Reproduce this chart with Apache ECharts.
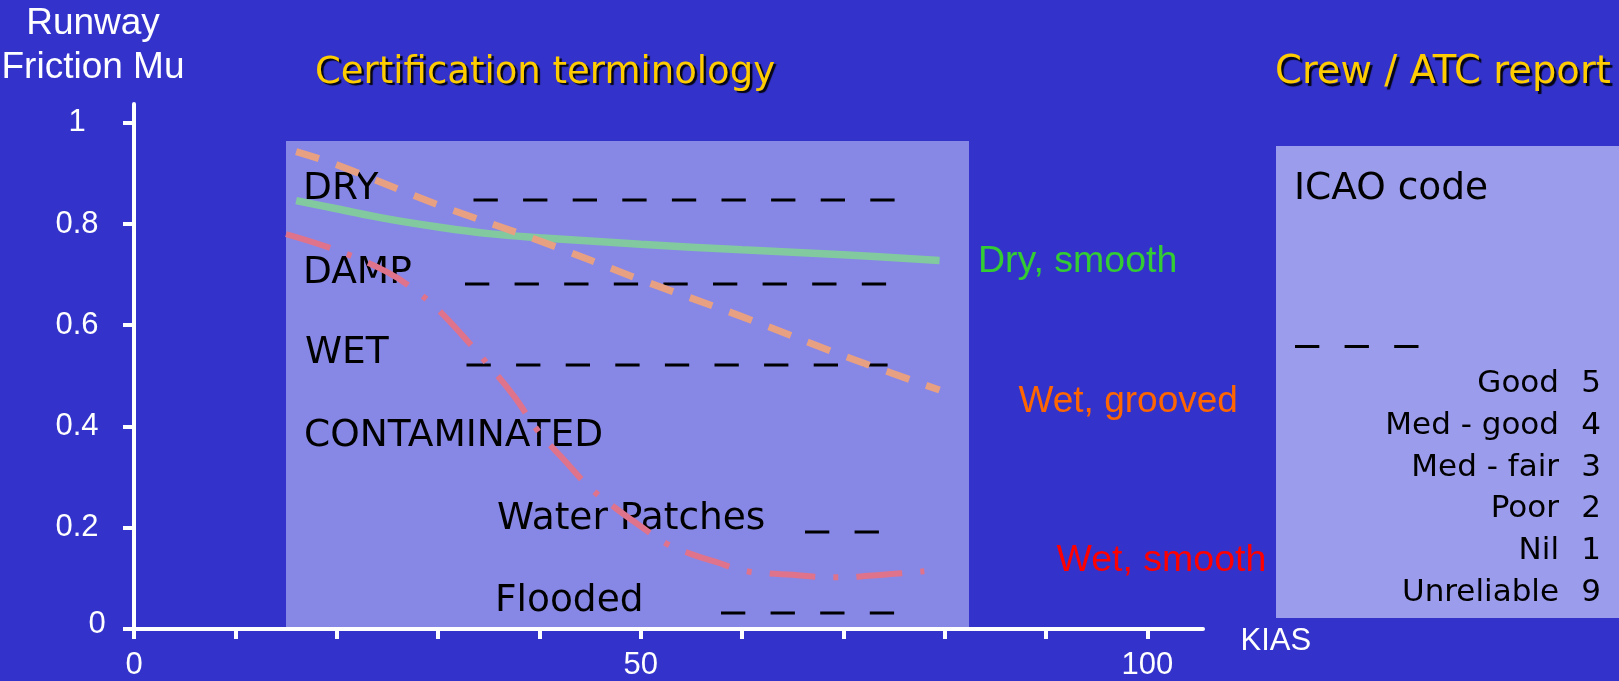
<!DOCTYPE html>
<html>
<head>
<meta charset="utf-8">
<script src="https://cdn.jsdelivr.net/npm/echarts@6/dist/echarts.min.js"></script>
<style>
  html, body { margin: 0; padding: 0; background: #3333CC; }
  #chart { width: 1619px; height: 681px; }
</style>
</head>
<body>
<div id="chart"></div>
<script>
// ---- Data ----
const yTickValues = [0, 0.2, 0.4, 0.6, 0.8, 1];
const xTickValues = [0, 10, 20, 30, 40, 50, 60, 70, 80, 90, 100];
const xLabelValues = [0, 50, 100];

// Dry, smooth (solid green)
const drySmoothKias = [16, 20, 25, 30, 35, 40, 50, 60, 70, 79.5];
const drySmoothMu   = [0.846, 0.830, 0.810, 0.794, 0.781, 0.773, 0.760, 0.749, 0.739, 0.728];

// Wet, grooved (dashed orange)
const wetGroovedKias = [16, 20, 30, 40, 50, 60, 70, 79.5];
const wetGroovedMu   = [0.943, 0.917, 0.838, 0.767, 0.690, 0.617, 0.540, 0.472];

// Wet, smooth (dash-dot red)
const wetSmoothKias = [15, 20, 25, 28, 30, 32.5, 35, 37.5, 40, 42.5, 45, 47.5, 50, 52.5, 55, 57.5, 60, 62.5, 65, 67.5, 70, 72.5, 75, 78];
const wetSmoothMu   = [0.780, 0.748, 0.705, 0.665, 0.631, 0.578, 0.521, 0.460, 0.388, 0.333, 0.279, 0.239, 0.203, 0.169, 0.148, 0.132, 0.116, 0.110, 0.107, 0.103, 0.102, 0.105, 0.109, 0.114];

// Text content
const certTerms = ['DRY', 'DAMP', 'WET', 'CONTAMINATED'];
const contamTerms = ['Water Patches', 'Flooded'];
const icaoLabels = ['Good', 'Med - good', 'Med - fair', 'Poor', 'Nil', 'Unreliable'];
const icaoCodes = ['5', '4', '3', '2', '1', '9'];

const pair = (xs, ys) => xs.map((x, i) => [x, ys[i]]);

// ---- Layout helpers ----
const SANS = '"Liberation Sans", Arial, sans-serif';
const VERD = '"DejaVu Sans", Verdana, sans-serif';
const DY = 4.5;

function txt(text, x, y, size, family, color, align, extra) {
  return {
    type: 'text', z: 1,
    style: Object.assign({
      text: text, x: x, y: y + DY,
      font: size + 'px ' + family,
      fill: color,
      align: align || 'left', textAlign: align || 'left',
      verticalAlign: 'middle', textVerticalAlign: 'middle'
    }, extra || {})
  };
}
function dashes(x1, x2, y) {
  return {
    type: 'line', z: 1,
    shape: { x1: x1, y1: y, x2: x2, y2: y },
    style: { stroke: '#000', lineWidth: 3, lineDash: [24.3, 25.3], lineCap: 'butt' }
  };
}
const shadow = { textShadowColor: 'rgba(0,0,0,0.9)', textShadowOffsetX: 2.5, textShadowOffsetY: 2.5, textShadowBlur: 1 };

const graphics = [
  { type: 'rect', z: 0, shape: { x: 286, y: 141, width: 683, height: 488 }, style: { fill: '#8787E6' } },
  { type: 'rect', z: 0, shape: { x: 1276, y: 146, width: 343, height: 472 }, style: { fill: '#9C9CEC' } },
  // axis titles
  txt('Runway\nFriction Mu', 93, 41.5, 37, SANS, '#ffffff', 'center', { lineHeight: 44.5 }),
  txt('KIAS', 1240.5, 637, 31, SANS, '#ffffff', 'left'),
  // section titles
  txt('Certification terminology', 315, 68.5, 37, VERD, '#FFCC00', 'left', shadow),
  txt('Crew / ATC report', 1275, 68.5, 38.5, VERD, '#FFCC00', 'left', shadow),
  // certification terms
  txt(certTerms[0], 303, 184.5, 37.5, VERD, '#000', 'left'),
  txt(certTerms[1], 303, 268.5, 37.5, VERD, '#000', 'left'),
  txt(certTerms[2], 305, 348.5, 37.5, VERD, '#000', 'left'),
  txt(certTerms[3], 304, 431.5, 37.5, VERD, '#000', 'left'),
  txt(contamTerms[0], 497, 515, 37.5, VERD, '#000', 'left'),
  txt(contamTerms[1], 495, 596.5, 37.5, VERD, '#000', 'left'),
  dashes(473.5, 896, 200),
  dashes(465, 887, 284),
  dashes(466.5, 888, 365),
  dashes(805, 879, 532),
  dashes(721, 895, 613),
  dashes(1295, 1419, 346.5),
  // series captions
  txt('Dry, smooth', 978, 257, 37.5, SANS, '#33CC33', 'left'),
  txt('Wet, grooved', 1018.5, 397, 37, SANS, '#FF6600', 'left'),
  txt('Wet, smooth', 1056.5, 556, 37.5, SANS, '#FF0000', 'left'),
  // ICAO panel
  txt('ICAO code', 1294, 185, 37.5, VERD, '#000', 'left')
];
const rowY = [379, 421, 463, 504, 546, 588];
icaoLabels.forEach((lab, i) => {
  graphics.push(txt(lab, 1559, rowY[i], 31, VERD, '#000', 'right'));
  graphics.push(txt(icaoCodes[i], 1601, rowY[i], 31, VERD, '#000', 'right'));
});

const chart = echarts.init(document.getElementById('chart'), null, { renderer: 'canvas' });
chart.setOption({
  backgroundColor: '#3333CC',
  animation: false,
  textStyle: { fontFamily: SANS },
  grid: { left: 134, right: 416, top: 104, bottom: 48, containLabel: false },
  xAxis: {
    type: 'value', min: 0, max: 105.5, interval: 10,
    axisLine: { show: true, onZero: false, lineStyle: { color: '#fff', width: 4 } },
    axisTick: { show: true, length: 10, lineStyle: { color: '#fff', width: 4 }, customValues: xTickValues },
    axisLabel: { color: '#fff', fontSize: 31, fontFamily: SANS, margin: 21, customValues: xLabelValues },
    splitLine: { show: false }
  },
  yAxis: {
    type: 'value', min: 0, max: 1.037, interval: 0.2,
    axisLine: { show: true, onZero: false, lineStyle: { color: '#fff', width: 4 } },
    axisTick: { show: true, length: 11, lineStyle: { color: '#fff', width: 4 }, customValues: yTickValues },
    axisLabel: {
      color: '#fff', fontSize: 31, fontFamily: SANS, margin: 57, align: 'center',
      customValues: yTickValues,
      formatter: v => (v === 0 ? '{z|0}' : String(v)),
      rich: { z: { color: '#fff', fontSize: 31, fontFamily: SANS, padding: [0, 0, 10, 40] } }
    },
    splitLine: { show: false }
  },
  graphic: { elements: graphics },
  series: [
    {
      name: 'Dry, smooth', type: 'line', z: 5, smooth: 0.4, showSymbol: false, symbol: 'none',
      data: pair(drySmoothKias, drySmoothMu),
      lineStyle: { color: '#82C9A0', width: 7.5, cap: 'butt' }
    },
    {
      name: 'Wet, grooved', type: 'line', z: 5, smooth: 0.4, showSymbol: false, symbol: 'none',
      data: pair(wetGroovedKias, wetGroovedMu),
      lineStyle: { color: '#E8A082', width: 7, type: [24, 18], cap: 'butt' }
    },
    {
      name: 'Wet, smooth', type: 'line', z: 5, smooth: 0.4, showSymbol: false, symbol: 'none',
      data: pair(wetSmoothKias, wetSmoothMu),
      lineStyle: { color: '#E0738C', width: 6, type: [46, 18, 5, 18], cap: 'butt' }
    }
  ]
});
</script>
</body>
</html>
